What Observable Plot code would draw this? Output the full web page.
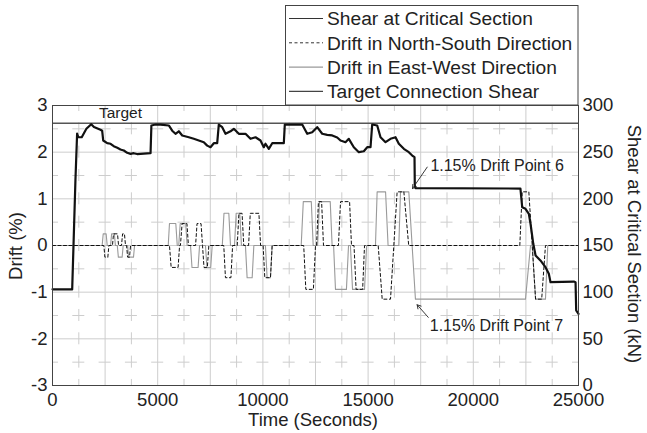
<!DOCTYPE html>
<html>
<head>
<meta charset="utf-8">
<script src="https://cdn.jsdelivr.net/npm/d3@7"></script>
<script src="https://cdn.jsdelivr.net/npm/@observablehq/plot@0.6"></script>
<style>
  body { margin: 0; background: white; }
  svg { display: block; }
</style>
</head>
<body>
<div id="chart"></div>
<script>
// ---------- data ----------
// Shear at critical section (time in s, shear in kN)
const shearT = [0, 936, 1090, 1170, 1230, 1390, 1610, 1840, 1970, 2280, 2360, 2410, 2600, 2760, 2910, 3080, 3230, 3390, 3550, 3710, 3860, 4020, 4660, 4700, 4900, 5130, 5528, 5689, 5846, 6003, 6165, 6478, 6716, 6954, 7191, 7353, 7510, 7667, 7828, 7904, 8066, 8223, 8461, 8617, 8855, 9173, 9411, 9649, 9886, 10043, 10124, 10281, 10443, 10994, 11041, 11868, 12106, 12343, 12581, 12819, 13056, 13294, 13532, 13689, 13926, 14083, 14321, 14559, 14796, 14958, 15115, 15195, 15433, 15590, 15828, 16065, 16303, 16460, 16698, 16935, 17097, 17206, 17220, 17253, 22240, 22325, 22480, 22640, 22720, 22850, 22960, 23190, 23430, 23590, 23670, 24780, 24860, 24890, 25000];
const shearKN = [103, 103, 220, 270, 266, 266, 275, 280, 277, 274, 273, 262.5, 259.6, 259, 256.4, 254.7, 252.9, 251.8, 249.3, 248.2, 248.9, 248, 248.9, 278.6, 279.6, 279.6, 278.6, 273, 269.7, 272.4, 267.8, 266, 264.3, 262.5, 260.7, 257, 255.3, 259.6, 259.6, 279.6, 276.8, 269.7, 272.4, 275, 269.7, 269.7, 264.3, 266, 262.5, 255.3, 259, 253.6, 259.6, 259.6, 279.6, 279.6, 269.7, 271.4, 276.8, 269.7, 268.6, 267.9, 265.7, 262.5, 260.7, 264.3, 255.3, 250, 251, 255.3, 255.3, 279.6, 278.6, 266, 260.7, 264.3, 266, 259, 253.6, 250, 246.4, 244.6, 214.3, 211.5, 211, 191, 189.3, 184, 173.3, 151.8, 139.3, 134, 126.8, 119.7, 110.7, 111.4, 110.7, 80.4, 76.8];

// Drift in North-South direction (time s, drift %)
const nsT = [0, 2440, 2490, 2630, 2680, 2850, 2900, 3090, 3140, 3280, 3330, 3420, 3470, 3520, 3570, 3660, 3710,
  5560, 5640, 5970, 6040, 6080, 6160, 6390, 6460, 6800, 6870, 7060, 7130, 7200, 7360, 7430,
  8140, 8220, 8480, 8560, 8780, 8860, 9010, 9090, 9320, 9400, 9810, 9890, 10010, 10090, 10360, 10440,
  11940, 12040, 12400, 12500, 12550, 12640, 12790, 12880, 13590, 13690, 14120, 14210, 14330, 14430, 14740, 14830,
  15480, 15670, 16065, 16380, 16700, 16930,
  22210, 22325, 22640, 22960, 23250, 23430, 25000];
const nsDrift = [0, 0, -0.25, -0.25, 0, 0, 0.25, 0.25, 0, 0, 0.25, 0.25, 0, 0, -0.25, -0.25, 0,
  0, -0.47, -0.47, 0, 0, 0.47, 0.47, 0, 0, 0.47, 0.47, 0, -0.47, -0.47, 0,
  0, -0.69, -0.69, 0, 0, 0.69, 0.69, 0, 0, 0.69, 0.69, 0, 0, -0.69, -0.69, 0,
  0, -0.94, -0.94, 0, 0, 0.94, 0.94, 0, 0, 0.94, 0.94, 0, 0, -0.94, -0.94, 0,
  0, -1.15, -1.15, 1.15, 1.15, 0,
  0, 1.15, 1.15, -1.15, -1.15, 0, 0];

// Drift in East-West direction (time s, drift %)
const ewT = [0, 2360, 2410, 2550, 2600, 2760, 2810, 2940, 2990, 3080, 3130, 3310, 3360, 3570, 3620, 3850, 3900,
  5500, 5560, 5860, 5930, 6000, 6070, 6330, 6400, 6560, 6630, 6920, 6990, 7270, 7340, 7520, 7590,
  8070, 8150, 8380, 8460, 8650, 8730, 8900, 8980, 9170, 9250, 9490, 9570, 10120, 10200, 10360, 10440,
  11820, 11920, 12300, 12390, 12600, 12690, 13200, 13290, 13360, 13450, 13970, 14070, 14160, 14260, 14830, 14930,
  15350, 15430, 15830, 15950, 16460, 16540, 16935, 17250, 22480, 22720, 22800, 22960, 23430, 23540, 25000];
const ewDrift = [0, 0, 0.25, 0.25, 0, 0, 0.25, 0.25, 0, 0, -0.25, -0.25, 0, 0, -0.25, -0.25, 0,
  0, 0.47, 0.47, 0, 0, 0.47, 0.47, 0, 0, -0.47, -0.47, 0, 0, -0.47, -0.47, 0,
  0, 0.69, 0.69, 0, 0, 0.69, 0.69, 0, 0, -0.69, -0.69, 0, 0, -0.69, -0.69, 0,
  0, 0.94, 0.94, 0, 0, 0.94, 0.94, 0, 0, -0.94, -0.94, 0, 0, -0.94, -0.94, 0,
  0, 1.15, 1.15, 0, 0, 1.15, 1.15, -1.15, -1.15, 0, 0, -1.15, -1.15, 0, 0];

const targetShear = 281; // kN
const xTicks = [0, 5000, 10000, 15000, 20000, 25000];
const yTicks = [-3, -2, -1, 0, 1, 2, 3];
const rightTicks = [0, 50, 100, 150, 200, 250, 300];
const xGridMajor = [2500, 5000, 7500, 10000, 12500, 15000, 17500, 20000, 22500];
const xGridMinor = [1250, 3750, 6250, 8750, 11250, 13750, 16250, 18750, 21250, 23750];
const yGridMajor = [-2, -1, 0, 1, 2];
const yGridMinor = [-2.5, -1.5, -0.5, 0.5, 1.5, 2.5];
const seriesNames = ["Shear at Critical Section", "Drift in North-South Direction", "Drift in East-West Direction", "Target Connection Shear"];
const annotations = [
  {text: "1.15% Drift Point 6", t: 17960, d: 1.71, t1: 17810, d1: 1.68, t2: 17110, d2: 1.22},
  {text: "1.15% Drift Point 7", t: 17930, d: -1.72, t1: 17860, d1: -1.54, t2: 17330, d2: -1.27}
];
const targetLabel = {text: "Target", t: 3230, d: 2.83};

// ---------- build ----------
const kNToDrift = kN => (kN - 150) / 50;  // right axis 0..300 kN <-> left axis -3..3 %
const shear = shearT.map((t, i) => ({t, v: kNToDrift(shearKN[i])}));
const ns = nsT.map((t, i) => ({t, v: nsDrift[i]}));
const ew = ewT.map((t, i) => ({t, v: ewDrift[i]}));

const FONT = "'Liberation Sans', Arial, Helvetica, sans-serif";
const gridColor = "#cdcdcd";

const svg = Plot.plot({
  width: 647,
  height: 433,
  marginLeft: 52,
  marginRight: 69,
  marginTop: 105,
  marginBottom: 48,
  x: {domain: [0, 25000]},
  y: {domain: [-3, 3]},
  style: {fontFamily: FONT, fontSize: "18.5px", color: "#222", background: "white", overflow: "visible"},
  marks: [
    Plot.ruleX(xGridMinor, {stroke: gridColor, strokeWidth: 1, strokeDasharray: "12,11.33", strokeDashoffset: 6}),
    Plot.ruleY(yGridMinor, {stroke: gridColor, strokeWidth: 1, strokeDasharray: "12,14.3", strokeDashoffset: 6}),
    Plot.ruleX(xGridMajor, {stroke: gridColor, strokeWidth: 1}),
    Plot.ruleY(yGridMajor, {stroke: gridColor, strokeWidth: 1}),
    Plot.line(ew, {x: "t", y: "v", stroke: "#9a9a9a", strokeWidth: 1.1}),
    Plot.line(ns, {x: "t", y: "v", stroke: "#111", strokeWidth: 1, strokeDasharray: "3,2.5"}),
    Plot.ruleY([kNToDrift(targetShear)], {stroke: "#555", strokeWidth: 1.4}),
    Plot.line(shear, {x: "t", y: "v", stroke: "#111", strokeWidth: 2.2}),
    Plot.text([targetLabel], {x: "t", y: "d", text: "text", fontSize: 15.5, fill: "#222"}),
    Plot.arrow(annotations, {x1: "t1", y1: "d1", x2: "t2", y2: "d2", stroke: "#222", strokeWidth: 0.9, headLength: 7}),
    Plot.text(annotations, {x: "t", y: "d", text: "text", textAnchor: "start", fontSize: 16, fill: "#222"}),
    Plot.frame({stroke: "#444", strokeWidth: 1}),
    Plot.axisX({ticks: xTicks, tickSize: 0, tickPadding: 7, tickFormat: d => String(d), label: null}),
    Plot.axisY({ticks: yTicks, tickSize: 0, tickPadding: 5, tickFormat: d => String(d), label: null}),
    Plot.axisY({anchor: "right", ticks: rightTicks.map(kNToDrift), tickSize: 0, tickPadding: 4,
      tickFormat: d => String(Math.round(150 + 50 * d)), label: null})
  ]
});

document.getElementById("chart").appendChild(svg);

// ---------- legend & axis titles ----------
const s = d3.select(svg);
const lg = s.append("g").attr("font-family", FONT).attr("font-size", "19.2px").attr("fill", "#222")
  .attr("text-anchor", "start");
lg.append("rect").attr("x", 285.5).attr("y", 5.5).attr("width", 292.5).attr("height", 99.5)
  .attr("fill", "white").attr("stroke", "#444").attr("stroke-width", 1);
const legendStyles = [
  {stroke: "#333", width: 1.2, dash: null},
  {stroke: "#333", width: 1, dash: "3,2.5"},
  {stroke: "#9a9a9a", width: 1.2, dash: null},
  {stroke: "#444", width: 1.4, dash: null}
];
seriesNames.forEach((name, i) => {
  const y = 18.5 + i * 24.3;
  const st = legendStyles[i];
  const ln = lg.append("line").attr("x1", 289).attr("x2", 323).attr("y1", y).attr("y2", y)
    .attr("stroke", st.stroke).attr("stroke-width", st.width);
  if (st.dash) ln.attr("stroke-dasharray", st.dash);
  lg.append("text").attr("x", 327).attr("y", y).attr("dy", "0.36em").attr("text-anchor", "start").text(name);
});

const titles = s.append("g").attr("font-family", FONT).attr("font-size", "18.5px").attr("fill", "#222");
titles.append("text").attr("x", 313).attr("y", 426).attr("text-anchor", "middle").text("Time (Seconds)");
titles.append("text").attr("transform", "translate(22,246) rotate(-90)").attr("text-anchor", "middle").text("Drift (%)");
titles.append("text").attr("transform", "translate(628,244) rotate(90)").attr("text-anchor", "middle").text("Shear at Critical Section (kN)");
</script>
</body>
</html>
